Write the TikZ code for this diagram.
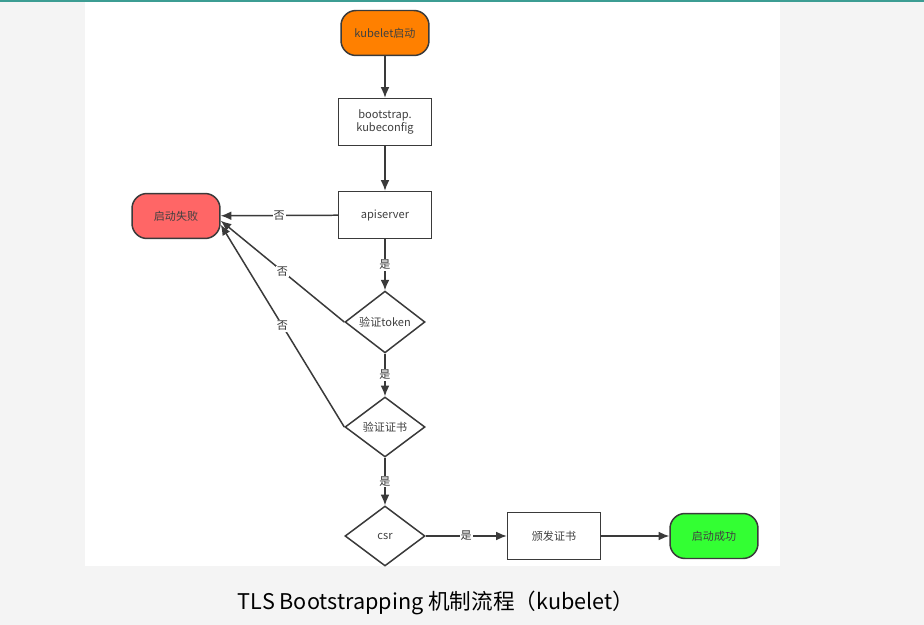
\documentclass[tikz,border=0pt]{standalone}
\usepackage{fontspec}
\setmainfont{Noto Sans CJK SC}
\usetikzlibrary{shapes.geometric, arrows.meta}
\definecolor{edgegray}{HTML}{3A3A3A}
\definecolor{startorange}{HTML}{FF8000}
\definecolor{failred}{HTML}{FF6666}
\definecolor{okgreen}{HTML}{33FF33}
\definecolor{topteal}{HTML}{3C9D93}
\definecolor{pagegray}{HTML}{F4F4F4}
\begin{document}
\begin{tikzpicture}[x=0.02cm, y=-0.02cm]
      \tikzset{stepbox/.style={draw=edgegray, line width=0.85pt, fill=white, minimum width=1.86cm, minimum height=0.94cm, inner sep=1pt, align=center, font=\fontsize{6.3}{7.8}\selectfont, text=black!75}}
      \tikzset{terminal/.style={stepbox, rounded corners=0.3cm, minimum width=1.76cm, minimum height=0.9cm}}
      \tikzset{decision/.style={draw=edgegray, line width=0.85pt, fill=white, diamond, inner sep=0pt, minimum width=1.6cm, minimum height=1.2cm, font=\fontsize{6.3}{7.8}\selectfont, text=black!75}}
      \tikzset{answer/.style={midway, fill=white, inner sep=0.5pt, font=\fontsize{6.3}{7}\selectfont, text=black!80}}
%% Background
      \fill[pagegray] (0,0) rectangle (924,625);
      \fill[white] (85,2) rectangle (780,566);
      \fill[topteal] (0,0) rectangle (924,2);
%% Vertices
      	\node[terminal, fill=startorange] (start) at (385,33) {kubelet启动};
      	\node[stepbox] (boot) at (385,122) {bootstrap.\\kubeconfig};
      	\node[stepbox] (api) at (385,215) {apiserver};
      	\node[terminal, fill=failred] (fail) at (176,216) {启动失败};
      	\node[decision] (token) at (385,322) {验证token};
      	\node[decision] (cert) at (385,427) {验证证书};
      	\node[decision] (csr) at (385,536) {csr};
      	\node[stepbox] (issue) at (554,536) {颁发证书};
      	\node[terminal, fill=okgreen] (ok) at (714,536) {启动成功};
      	\node[font=\fontsize{12.3}{14}\selectfont, text=black] (caption) at (436,603) {TLS Bootstrapping 机制流程（kubelet）};
%Edges
		\path[->, > = {Latex[length=6pt, width=5pt]}, line width=0.85pt, color=edgegray] (start) edge (boot);
		\path[->, > = {Latex[length=6pt, width=5pt]}, line width=0.85pt, color=edgegray] (boot) edge (api);
		\path[->, > = {Latex[length=6pt, width=5pt]}, line width=0.85pt, color=edgegray] (api) edge node[answer] {是} (token);
		\path[->, > = {Latex[length=6pt, width=5pt]}, line width=0.85pt, color=edgegray] (token) edge node[answer] {是} (cert);
		\path[->, > = {Latex[length=6pt, width=5pt]}, line width=0.85pt, color=edgegray] (cert) edge node[answer] {是} (csr);
		\path[->, > = {Latex[length=6pt, width=5pt]}, line width=0.85pt, color=edgegray] (csr) edge node[answer] {是} (issue);
		\path[->, > = {Latex[length=6pt, width=5pt]}, line width=0.85pt, color=edgegray] (issue) edge (ok);
		\path[->, > = {Latex[length=6pt, width=5pt]}, line width=0.85pt, color=edgegray] (api) edge node[answer] {否} (fail);
		\path[->, > = {Latex[length=6pt, width=5pt]}, line width=0.85pt, color=edgegray] (token.west) edge node[answer] {否} (fail.-6);
		\path[->, > = {Latex[length=6pt, width=5pt]}, line width=0.85pt, color=edgegray] (cert.west) edge node[answer] {否} (fail.-11);
	\end{tikzpicture}
\end{document}
